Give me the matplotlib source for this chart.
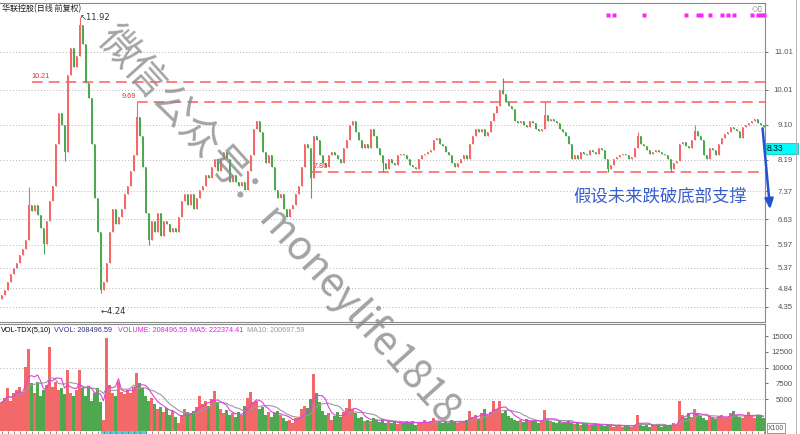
import matplotlib
matplotlib.use('Agg')
import matplotlib.pyplot as plt
from matplotlib.patches import Rectangle
from matplotlib.transforms import blended_transform_factory
import numpy as np
import pandas as pd

plt.rcParams['font.family'] = ['Liberation Sans', 'Noto Sans CJK SC', 'DejaVu Sans']

#%% data (one candle every ~3 px)
open0 = 4.55
closes = [
    4.65, 4.8, 5.0, 5.2, 5.35, 5.5, 5.7, 5.85, 6.1, 7.0,
    6.85, 7.0, 6.75, 6.4, 6.0, 6.6, 7.1, 7.5, 8.6, 9.4,
    9.1, 8.4, 10.4, 11.1, 10.6, 10.9, 11.7, 11.2, 10.2, 9.8,
    8.6, 7.2, 6.3, 4.8, 5.0, 5.5, 6.3, 6.9, 6.5, 6.7,
    6.9, 7.3, 7.5, 7.9, 8.3, 9.3, 8.8, 8.0, 6.8, 6.1,
    6.6, 6.3, 6.8, 6.2, 6.6, 6.5, 6.3, 6.4, 6.3, 6.7,
    7.1, 7.3, 7.0, 7.3, 6.9, 7.2, 7.4, 7.5, 7.8, 7.7,
    8.0, 8.2, 7.9, 8.2, 8.4, 8.2, 7.6, 7.8, 7.6, 7.5,
    7.6, 7.4, 7.9, 8.3, 9.0, 9.2, 8.9, 8.4, 8.1, 8.3,
    8.0, 7.4, 7.2, 7.3, 6.9, 6.7, 6.9, 7.0, 7.3, 7.5,
    8.0, 8.6, 8.5, 7.7, 8.8, 8.7, 8.3, 8.1, 8.0, 8.3,
    8.4, 8.3, 8.2, 8.1, 8.5, 8.7, 9.1, 9.2, 8.9, 8.7,
    8.5, 8.6, 8.5, 9.0, 8.8, 8.5, 8.3, 8.1, 7.95, 8.2,
    8.1, 8.05, 8.3, 8.35, 8.3, 8.2, 8.05, 8.0, 7.95, 8.2,
    8.3, 8.35, 8.4, 8.45, 8.7, 8.75, 8.6, 8.55, 8.4, 8.3,
    8.1, 8.0, 8.1, 8.2, 8.3, 8.2, 8.6, 8.8, 9.0, 8.9,
    9.0, 8.8, 8.9, 9.2, 9.4, 9.6, 10.0, 9.9, 9.7, 9.6,
    9.5, 9.2, 9.15, 9.2, 9.1, 9.05, 9.2, 9.15, 9.0, 8.95,
    9.0, 9.35, 9.2, 9.25, 9.2, 9.15, 9.0, 8.9, 8.8, 8.6,
    8.2, 8.3, 8.2, 8.4, 8.35, 8.3, 8.45, 8.4, 8.35, 8.5,
    8.45, 8.2, 7.95, 8.05, 8.2, 8.25, 8.3, 8.35, 8.3, 8.2,
    8.25, 8.5, 8.8, 8.6, 8.55, 8.45, 8.35, 8.4, 8.45, 8.4,
    8.35, 8.3, 8.2, 7.95, 8.1, 8.15, 8.6, 8.65, 8.55, 8.5,
    8.7, 8.95, 8.8, 8.7, 8.3, 8.2, 8.5, 8.45, 8.3, 8.6,
    8.75, 8.85, 8.9, 9.05, 9.0, 8.95, 8.75, 9.05, 9.1, 9.15,
    9.2, 9.25, 9.15, 9.1, 9.05,
]
# long shadows that show in the picture
spike_highs = {9: 7.47, 26: 11.92, 45: 9.69, 167: 10.33, 181: 9.7, 212: 8.9, 231: 9.1}
spike_lows = {14: 5.72, 21: 8.15, 33: 4.70, 49: 5.95, 103: 7.2, 127: 7.86, 202: 7.86, 223: 7.86}

volumes = [  # x100 shares
    4500, 5200, 6800, 4800, 6000, 6500, 7000, 6200, 10100, 12900,
    7500, 6000, 7800, 5500, 6500, 7200, 13250, 7000, 7800, 6500,
    6800, 5800, 9700, 6000, 5500, 6500, 9700, 6800, 5500, 7000,
    4800, 6000, 6800, 4500, 1700, 14700, 7200, 6000, 5500, 7800,
    6200, 5800, 6500, 6000, 7000, 9200, 7500, 6800, 5500, 4800,
    5200, 4300, 3500, 3800, 3000, 3600, 2600, 3200, 2200, 1200,
    2500, 3400, 3000, 2800, 3200, 3800, 5600, 4200, 4800, 3900,
    5000, 6300, 4500, 3500, 2800, 3300, 2500, 2800, 2200, 3000,
    2600, 4000, 5200, 6100, 4500, 4800, 3500, 3800, 2600, 3000,
    2200, 2800, 3200, 2500, 2000, 1500, 1800, 1300, 2000, 2200,
    3400, 4000, 3600, 5000, 9000, 6000, 4500, 3200, 2500, 2800,
    1800, 2300, 3000, 2200, 3000, 3600, 5000, 3500, 2800, 2000,
    2200, 1600, 1800, 1500, 2100, 1700, 1400, 1900, 1300, 1600,
    1200, 1500, 1100, 1400, 1300, 1600, 1200, 1500, 1000, 1400,
    1300, 1700, 1200, 1500, 2100, 1400, 1600, 1300, 1500, 1200,
    1800, 1400, 1300, 1600, 1500, 1700, 3200, 2200, 2600, 1900,
    2800, 3400, 2500, 3000, 4700, 3500, 4700, 2800, 3300, 2400,
    2000, 1800, 1500, 1700, 1400, 1900, 1600, 1500, 1700, 1300,
    1600, 3300, 1800, 1500, 1400, 1300, 1500, 1200, 1400, 1600,
    1300, 1100, 1200, 1000, 1300, 1100, 900, 1000, 1200, 900,
    1000, 800, 1100, 900, 700, 800, 1000, 700, 800, 900,
    700, 1000, 2600, 900, 800, 1000, 700, 900, 800, 1100,
    700, 900, 800, 1000, 1200, 900, 4800, 2500, 2000, 2800,
    2200, 3400, 2900, 2300, 2000, 1800, 2400, 2100, 1900, 2300,
    2600, 2000, 2200, 2800, 3200, 2500, 2200, 2000, 2400, 3000,
    2300, 2100, 2600, 2400, 2085,
]

price_ticks = [4.35, 4.84, 5.37, 5.97, 6.63, 7.37, 8.19, 9.10, 10.01, 11.01]
vol_ticks = [5000, 7500, 10000, 12500, 15000]
vol_grid = [5000, 10000]

support_levels = [10.21, 9.69, 7.86]
support_start = [10, 45, 103]
support_label_x = [10, 40, 104]
high_idx, high_val = 26, 11.92
low_idx, low_val = 33, 4.24
signal_idx = [202, 204, 214, 228, 232, 233, 236, 240, 242, 244, 250, 252, 253, 254]
last_mark = '8.33'

title = '华联控股(日线 前复权)'
note = '假设未来跌破底部支撑'
watermark = '微信公众号：moneylife1818'

RED = '#f36868'
GREEN = '#4fa84f'
DASH = '#ff5a5a'
GRID = '#b5b5b5'
EDGE = '#8a8a8a'

#%% figure layout in pixels
W, H = 800, 434
fig = plt.figure(figsize=(W / 100, H / 100), dpi=100)


def box(x0, y0, x1, y1):
    return [x0 / W, 1 - y1 / H, (x1 - x0) / W, (y1 - y0) / H]


def px(x, y):
    return x / W, 1 - y / H


ax = fig.add_axes(box(0, 3, 765, 322))
axv = fig.add_axes(box(0, 324, 765, 434))

n = len(closes)
idx = np.arange(n)
c = np.array(closes)
o = np.r_[open0, c[:-1]]
hi = np.maximum(o, c)
lo = np.minimum(o, c)
for k, v in spike_highs.items():
    hi[k] = v
for k, v in spike_lows.items():
    lo[k] = v
up = c >= o
cols = np.where(up, RED, GREEN)

# candles
ax.vlines(idx, lo, hi, colors=cols, lw=0.8, zorder=3)
ax.bar(idx, np.maximum(np.abs(c - o), 0.02), bottom=np.minimum(o, c),
       width=0.55, color=cols, linewidth=0, zorder=3)

ax.set_xlim(-0.5, n - 0.5)
ax.set_ylim(3.953, 12.28)
ax.set_xticks([])
ax.yaxis.tick_right()
ax.set_yticks(price_ticks)
ax.set_yticklabels([f'{t:.2f}' for t in price_ticks])
ax.tick_params(axis='y', direction='out', length=2, width=0.6, colors='#555555',
               labelsize=5.6, pad=18)
for lab in ax.get_yticklabels():
    lab.set_ha('right')
ax.grid(axis='y', ls=(0, (1, 2.2)), color=GRID, lw=0.7)
ax.spines['left'].set_visible(False)
for s in ['top', 'bottom', 'right']:
    ax.spines[s].set_color(EDGE)
    ax.spines[s].set_linewidth(0.8)

# dashed support / resistance lines
for lvl, st, lx in zip(support_levels, support_start, support_label_x):
    ax.hlines(lvl, st, n - 0.5, colors=DASH, linestyles=(0, (7, 4)), lw=1.1, zorder=2)
    ax.text(lx, lvl + 0.07, f'{lvl:.2f}', color='#e03030', fontsize=5.2,
            ha='left', va='bottom', zorder=4)

ax.text(high_idx + 0.2, high_val - 0.03, f'↖{high_val:.2f}', fontsize=6, color='#333333',
        ha='left', va='center', family=['DejaVu Sans'])
ax.text(low_idx, low_val, f'←{low_val:.2f}', fontsize=6, color='#333333',
        ha='left', va='center', family=['DejaVu Sans'])

# signal markers at the top
top = blended_transform_factory(ax.transData, ax.transAxes)
ax.plot(signal_idx, [0.963] * len(signal_idx), 's', ms=2.6, color='#ff22ff',
        mec='none', transform=top, clip_on=False)
fig.text(*px(752, 8), '◇▯', fontsize=6, color='#777777', va='center',
         family=['DejaVu Sans'])

# note and arrow
ax.text(219.5, 7.24, note, fontsize=12.5, color='#3a5fcd', ha='center', va='center',
        family=['Noto Sans CJK SC'], fontweight='light')
ax.annotate('', xy=(256.3, 6.82), xytext=(253.6, 9.08), annotation_clip=False,
            arrowprops=dict(arrowstyle='-|>,head_length=0.6,head_width=0.25',
                            color='#2452d0', lw=1.8))

# current price box
fig.patches.append(Rectangle(px(766, 154), 32 / W, 11 / H, transform=fig.transFigure,
                             facecolor='#00ffff', edgecolor='#00b0b0', lw=0.5))
fig.text(*px(767, 148.5), last_mark, fontsize=6.2, color='#000000', va='center')

fig.text(*px(2, 8.5), title, fontsize=5.8, color='#202020', va='center',
         family=['Noto Sans CJK SC'])

#%% volume panel
vol = pd.Series(volumes, dtype=float)
ma5 = vol.rolling(5, min_periods=1).mean()
ma10 = vol.rolling(10, min_periods=1).mean()

axv.bar(idx, vol, width=0.76, color=cols, linewidth=0, zorder=2)
axv.plot(idx, ma10, color='#9a9a9a', lw=0.8, zorder=3)
axv.plot(idx, ma5, color='#e040e0', lw=0.8, zorder=4)
for g in vol_grid:
    axv.axhline(g, ls=(0, (1, 2.2)), color=GRID, lw=0.7, zorder=1)

axv.set_xlim(-0.5, n - 0.5)
axv.set_ylim(-474, 16895)
axv.set_xticks(np.arange(0, n, 2))
axv.set_xticklabels([])
axv.tick_params(axis='x', direction='in', length=2.5, width=0.5, colors='#666666')
axv.yaxis.tick_right()
axv.set_yticks(vol_ticks)
axv.set_yticklabels([str(t) for t in vol_ticks])
axv.tick_params(axis='y', direction='out', length=2, width=0.6, colors='#555555',
                labelsize=5.6, pad=18)
for lab in axv.get_yticklabels():
    lab.set_ha('right')
axv.spines['left'].set_visible(False)
for s in ['top', 'bottom', 'right']:
    axv.spines[s].set_color(EDGE)
    axv.spines[s].set_linewidth(0.8)

# selected range strip at the bottom
axv.add_patch(Rectangle((33, 0), 15.5, 0.025, transform=blended_transform_factory(
    axv.transData, axv.transAxes), facecolor='#33ddee', edgecolor='none', clip_on=False))

legend_parts = [
    (0, 'VOL-TDX(5,10)', '#000000'),
    (53, 'VVOL: 208496.59', '#303090'),
    (117, 'VOLUME: 208496.59', '#e020e0'),
    (189, 'MA5: 222374.41', '#e020e0'),
    (246, 'MA10: 200697.59', '#999999'),
]
for x0, txt, colr in legend_parts:
    fig.text(*px(x0 + 1, 330), txt, fontsize=5.2, color=colr, va='center')

fig.text(*px(768, 428), 'X100', fontsize=5, color='#555555', va='center',
         bbox=dict(boxstyle='square,pad=0.15', fc='white', ec='#888888', lw=0.6))

# right border of the neighbouring panel
fig.add_artist(plt.Line2D([796 / W, 796 / W], [0, 1], color='#aaaaaa', lw=0.6))

# watermark
fig.text(*px(279, 224), watermark, fontsize=29, color='#8c8c8c', alpha=0.8,
         rotation=-48, rotation_mode='anchor', ha='center', va='center', zorder=10,
         family=['Noto Sans CJK SC', 'DejaVu Sans'])

plt.savefig('out.png', dpi=100)
